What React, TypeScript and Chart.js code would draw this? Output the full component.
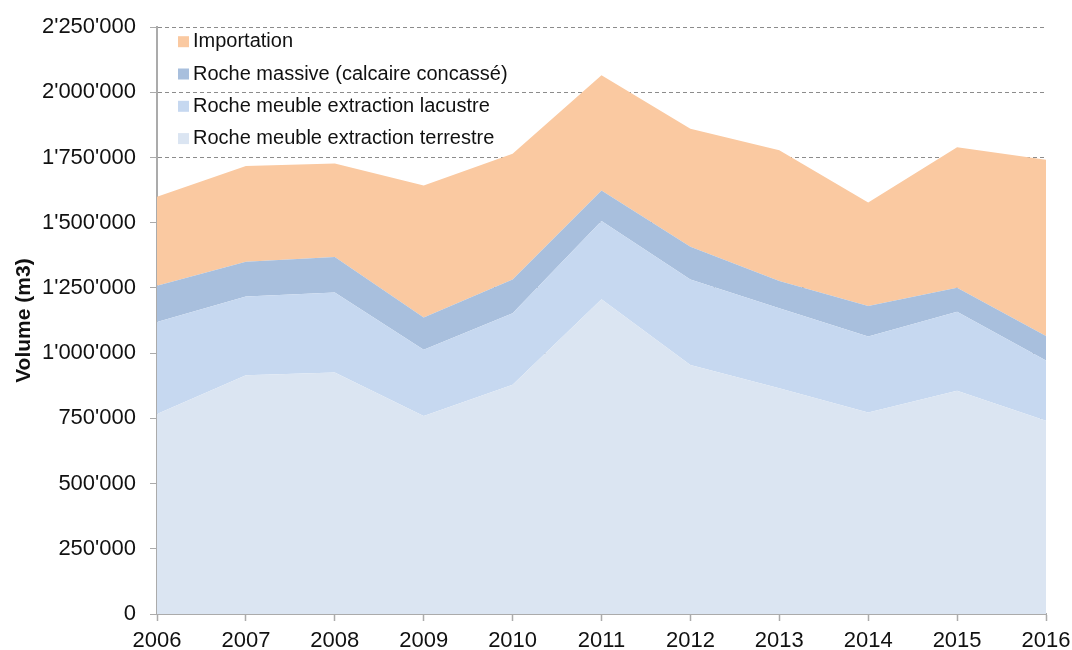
import React, { useEffect, useRef } from "react";
import { Chart, registerables } from "chart.js";

Chart.register(...registerables);

const years = ["2006", "2007", "2008", "2009", "2010", "2011", "2012", "2013", "2014", "2015", "2016"];
const terrestre = [767000, 915000, 926000, 759000, 879000, 1207000, 955000, 866000, 773000, 856000, 741000];
const lacustre = [353000, 302000, 307000, 254000, 274000, 300000, 328000, 306000, 291000, 303000, 231000];
const massive = [139000, 134000, 136000, 124000, 130000, 117000, 125000, 105000, 117000, 92000, 94000];
const importation = [341000, 367000, 358000, 506000, 482000, 442000, 453000, 501000, 397000, 539000, 676000];

const seriesLabels = [
  "Roche meuble extraction terrestre",
  "Roche meuble extraction lacustre",
  "Roche massive (calcaire concassé)",
  "Importation",
];
const seriesColors = ["#DBE5F2", "#C6D8F0", "#A8BFDD", "#FAC9A1"];
const yTicks = [0, 250000, 500000, 750000, 1000000, 1250000, 1500000, 1750000, 2000000, 2250000];

const FONT = "'Liberation Sans', Arial, sans-serif";

const fmt = (v: number) => String(v).replace(/\B(?=(\d{3})+(?!\d))/g, "'");

const insideLegend = {
  id: "insideLegend",
  afterDraw(chart: any) {
    const { ctx, chartArea } = chart;
    const ds = chart.data.datasets;
    ctx.save();
    ctx.font = `20px ${FONT}`;
    ctx.textBaseline = "middle";
    ctx.textAlign = "left";
    let k = 0;
    for (let i = ds.length - 1; i >= 0; i--) {
      const cy = chartArea.top + 14.5 + k * 32.3;
      const mx = chartArea.left + 21;
      ctx.fillStyle = ds[i].backgroundColor;
      ctx.fillRect(mx, cy - 5.5, 11, 11);
      ctx.fillStyle = "#111";
      ctx.fillText(ds[i].label, mx + 15, cy);
      k++;
    }
    ctx.restore();
  },
};

export default function App() {
  const ref = useRef<HTMLCanvasElement | null>(null);
  useEffect(() => {
    document.body.style.margin = "0";
    const series = [terrestre, lacustre, massive, importation];
    const chart = new Chart(ref.current!, {
      type: "line",
      data: {
        labels: years,
        datasets: series.map((d, i) => ({
          label: seriesLabels[i],
          data: d,
          backgroundColor: seriesColors[i],
          borderColor: seriesColors[i],
          borderWidth: 0,
          pointRadius: 0,
          tension: 0,
          fill: i === 0 ? "origin" : "-1",
        })),
      },
      options: {
        responsive: false,
        animation: false,
        layout: { padding: { top: 24, right: 0, left: 0, bottom: 0 } },
        plugins: { legend: { display: false }, tooltip: { enabled: false } },
        scales: {
          x: {
            type: "category",
            offset: false,
            grid: {
              display: true,
              drawOnChartArea: false,
              drawTicks: true,
              tickLength: 7,
              tickColor: "#ABABAB",
              tickWidth: 1.5,
            },
            border: { display: true, color: "#ABABAB", width: 2 },
            ticks: {
              color: "#111",
              font: { family: FONT, size: 22 },
              padding: 7,
              maxRotation: 0,
              autoSkip: false,
            },
            afterFit: (s: any) => {
              s.height = 36;
              s.paddingRight = 26;
              s.paddingLeft = 0;
            },
          },
          y: {
            stacked: true,
            min: 0,
            max: 2250000,
            z: 1,
            afterBuildTicks: (s: any) => {
              s.ticks = yTicks.map((v) => ({ value: v }));
            },
            grid: {
              color: (c: any) => (c.tick && c.tick.value === 0 ? "rgba(0,0,0,0)" : "#8C8C8C"),
              lineWidth: 1,
              tickLength: 7,
              tickColor: "#ABABAB",
              tickBorderDash: [],
            },
            border: { display: true, color: "#ABABAB", width: 2, dash: [4, 3] },
            ticks: {
              color: "#111",
              font: { family: FONT, size: 22 },
              padding: 14,
              callback: (v: any) => fmt(Number(v)),
            },
            title: {
              display: true,
              text: "Volume (m3)",
              color: "#111",
              font: { family: FONT, size: 21, weight: "bold" },
              padding: { top: 12, bottom: 0 },
            },
            afterFit: (s: any) => {
              s.width = 157;
            },
          },
        },
      },
      plugins: [insideLegend],
    } as any);
    return () => chart.destroy();
  }, []);
  return <canvas ref={ref} width={1072} height={650} />;
}
